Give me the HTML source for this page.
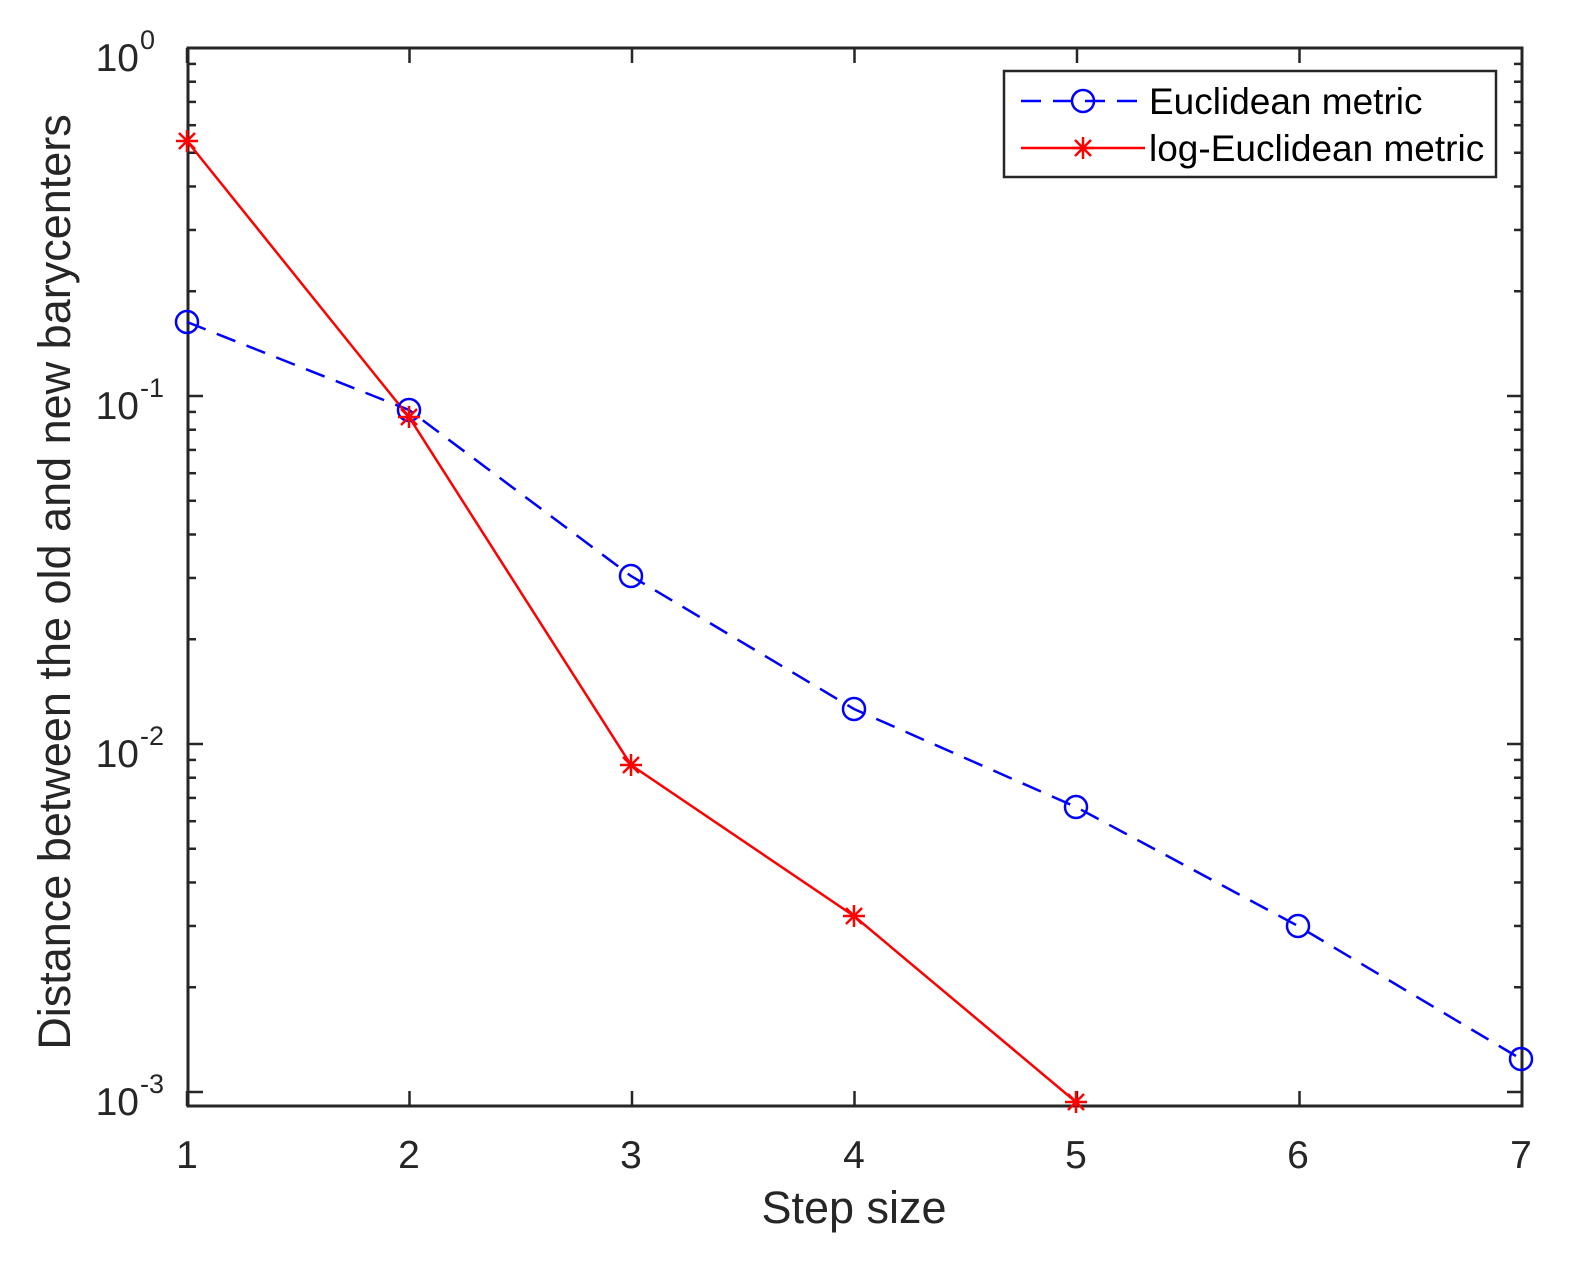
<!DOCTYPE html>
<html><head><meta charset="utf-8"><style>body{margin:0;background:#fff}svg{display:block}text{font-family:"Liberation Sans",sans-serif;fill:#262626}</style></head>
<body>
<svg id="s" width="1577" height="1266" xmlns="http://www.w3.org/2000/svg">
<rect width="1577" height="1266" fill="#fff"/>
<g id="g"></g>
<rect x="188" y="48" width="1334" height="1058" fill="none" stroke="#262626" stroke-width="3"/>
<g font-size="39" text-anchor="middle">
<text x="187" y="1168">1</text><text x="409" y="1168">2</text><text x="631" y="1168">3</text><text x="854" y="1168">4</text><text x="1076" y="1168">5</text><text x="1298" y="1168">6</text><text x="1521" y="1168">7</text>
</g>
<g font-size="39" text-anchor="end">
<text x="139" y="71">10</text><text x="139" y="419">10</text><text x="139" y="767">10</text><text x="139" y="1115">10</text>
</g>
<g font-size="27">
<text x="140" y="49">0</text><text x="140" y="397">-1</text><text x="140" y="745">-2</text><text x="140" y="1093">-3</text>
</g>
<text x="854" y="1223" font-size="45" text-anchor="middle">Step size</text>
<text transform="translate(70,582) rotate(-90)" font-size="45" text-anchor="middle">Distance between the old and new barycenters</text>
<polyline points="187,322 409,410 631,576 854,709 1076,807 1298,926 1521,1059" fill="none" stroke="#0000ff" stroke-width="2.5" stroke-dasharray="20,12"/>
<polyline points="187,141 409,417 631,765 854,916 1076,1102" fill="none" stroke="#ff0000" stroke-width="2.5"/>
<g id="m"></g>
<rect x="1004" y="71" width="492" height="106" fill="#fff" stroke="#262626" stroke-width="2.5"/>
<line x1="1021" y1="101" x2="1142" y2="101" stroke="#0000ff" stroke-width="2.5" stroke-dasharray="20,12"/>
<circle cx="1083" cy="101" r="11" fill="none" stroke="#0000ff" stroke-width="2.5"/>
<line x1="1021" y1="148" x2="1145" y2="148" stroke="#ff0000" stroke-width="2.5"/>
<g id="lm"></g>
<text x="1149" y="114" font-size="37" style="fill:#000">Euclidean metric</text>
<text x="1149" y="161" font-size="37" style="fill:#000">log-Euclidean metric</text>
</svg>
<script>
var g=document.getElementById('g'),h='';
function ln(a,b,c,d,col){return '<line x1="'+a+'" y1="'+b+'" x2="'+c+'" y2="'+d+'" stroke="'+(col||'#262626')+'" stroke-width="2.5"/>';}
for(var d=0;d<4;d++){var y0=48+348*d;
 if(y0<=1106){h+=ln(188,y0,203,y0)+ln(1522,y0,1507,y0);}
 for(var k=2;k<10;k++){var y=48+348*(d+1)-348*Math.log10(k);if(y>=48&&y<=1106){h+=ln(188,y,196,y)+ln(1522,y,1514,y);}}}
for(var i=1;i<=7;i++){var x=187+222.5*(i-1);h+=ln(x,1106,x,1091)+ln(x,48,x,63);}
g.innerHTML=h;
var m='';
[[187,322],[409,410],[631,576],[854,709],[1076,807],[1298,926],[1521,1059]].forEach(function(p){m+='<circle cx="'+p[0]+'" cy="'+p[1]+'" r="11" fill="none" stroke="#0000ff" stroke-width="2.5"/>';});
function star(x,y){var r=11;return ln(x-r,y,x+r,y,'#f00')+ln(x,y-r,x,y+r,'#f00')+ln(x-8,y-8,x+8,y+8,'#f00')+ln(x-8,y+8,x+8,y-8,'#f00');}
[[187,141],[409,417],[631,765],[854,916],[1076,1102]].forEach(function(p){m+=star(p[0],p[1]);});
document.getElementById('m').innerHTML=m;
document.getElementById('lm').innerHTML=star(1083,148);
</script>
</body></html>
